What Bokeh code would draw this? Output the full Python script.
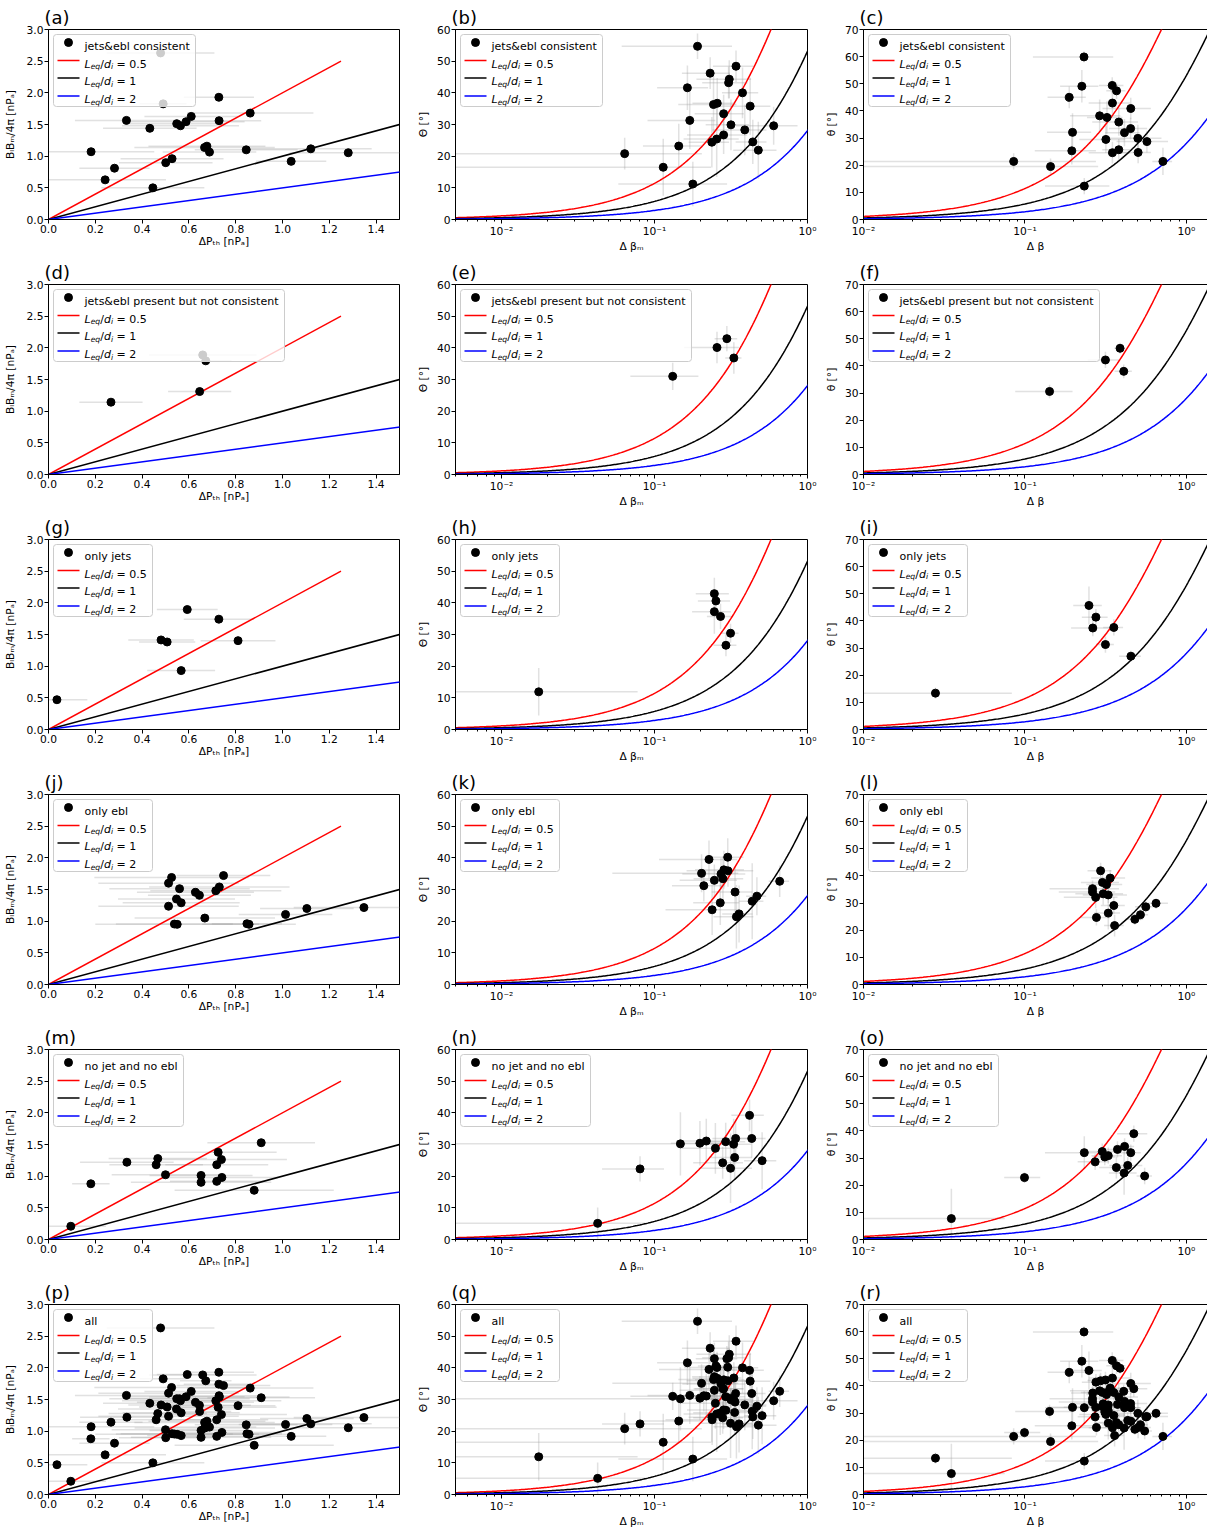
import numpy as np
from bokeh.plotting import figure
from bokeh.layouts import column, row
from bokeh.models import (Range1d, FixedTicker, PrintfTickFormatter, CustomJSTickFormatter,
                          Label, BoxAnnotation, Arrow)
from bokeh.embed import file_html
from bokeh.resources import INLINE

FONT = "DejaVu Sans"
FS = 10.7
LFS = 11.0

# ---------------- data ----------------
categories = ["jets&ebl consistent", "jets&ebl present but not consistent", "only jets",
              "only ebl", "no jet and no ebl", "all"]
panel_letters = list("abcdefghijklmnopqr")
L_ratios = [0.5, 1.0, 2.0]
L_texts = ["0.5", "1", "2"]
L_colors = ["#ff0000", "#000000", "#0000ff"]

# row 1 : jets&ebl consistent
a_x = [0.182, 0.242, 0.282, 0.333, 0.433, 0.446, 0.479, 0.490, 0.501, 0.528, 0.548, 0.564,
       0.588, 0.610, 0.667, 0.677, 0.688, 0.728, 0.729, 0.845, 0.862, 1.037, 1.121, 1.281]
a_y = [1.07, 0.626, 0.81, 1.565, 1.44, 0.50, 2.63, 1.826, 0.897, 0.96, 1.513, 1.48,
       1.544, 1.628, 1.137, 1.158, 1.064, 1.93, 1.56, 1.10, 1.68, 0.918, 1.116, 1.054]
a_xerr = [0.27, 0.26, 0.15, 0.22, 0.2, 0.22, 0.23, 0.1, 0.2, 0.22, 0.2, 0.25,
          0.25, 0.2, 0.3, 0.25, 0.2, 0.15, 0.18, 0.22, 0.27, 0.15, 0.26, 0.25]
b_x = [0.0638, 0.114, 0.144, 0.164, 0.170, 0.178, 0.191, 0.231, 0.237, 0.243, 0.255, 0.257,
       0.283, 0.283, 0.305, 0.308, 0.316, 0.341, 0.376, 0.389, 0.422, 0.439, 0.477, 0.601]
b_y = [20.8, 16.5, 23.2, 41.6, 31.3, 11.2, 54.7, 46.2, 24.4, 36.3, 25.4, 36.7,
       33.4, 26.7, 43.2, 44.3, 29.9, 48.4, 40.0, 28.3, 35.8, 24.5, 21.9, 29.6]
b_xerr = [0.14, 0.12, 0.06, 0.06, 0.08, 0.12, 0.13, 0.08, 0.07, 0.1, 0.1, 0.08,
          0.1, 0.12, 0.1, 0.12, 0.1, 0.1, 0.1, 0.15, 0.15, 0.1, 0.15, 0.26]
b_yerr = [5, 9, 7, 7, 9, 7, 4, 5, 8, 9, 12, 8, 6, 6, 5, 6, 8, 5, 8, 8, 9, 7, 9, 6]
c_x = [0.0851, 0.144, 0.188, 0.197, 0.195, 0.225, 0.232, 0.233, 0.290, 0.322, 0.317, 0.347,
       0.348, 0.348, 0.369, 0.381, 0.381, 0.413, 0.452, 0.451, 0.500, 0.502, 0.569, 0.715]
c_y = [21.4, 19.5, 45.0, 32.1, 25.3, 49.1, 59.9, 12.3, 38.2, 37.6, 29.5, 49.4,
       42.9, 24.6, 47.4, 35.9, 25.7, 32.0, 40.9, 33.5, 29.9, 24.7, 28.7, 21.4]
c_xerr = [0.19, 0.14, 0.05, 0.06, 0.08, 0.06, 0.12, 0.1, 0.1, 0.08, 0.1, 0.06,
          0.1, 0.1, 0.05, 0.12, 0.08, 0.1, 0.15, 0.12, 0.2, 0.1, 0.2, 0.1]
c_yerr = [3, 3, 4, 7, 5, 6, 2, 3, 6, 6, 5, 3, 5, 4, 3, 5, 4, 5, 4, 4, 5, 4, 4, 5]

# row 2 : jets&ebl present but not consistent
d_x = [0.267, 0.646, 0.659, 0.672]
d_y = [1.142, 1.31, 1.888, 1.795]
d_xerr = [0.135, 0.135, 0.23, 0.11]
e_x = [0.1315, 0.256, 0.297, 0.330]
e_y = [31.0, 40.1, 42.9, 36.8]
e_xerr = [0.062, 0.1, 0.05, 0.04]
e_yerr = [4.3, 5, 4, 5]
f_x = [0.142, 0.315, 0.388, 0.409]
f_y = [30.6, 42.2, 46.5, 38.0]
f_xerr = [0.055, 0.07, 0.03, 0.05]
f_yerr = [2.5, 3, 2, 2.5]

# row 3 : only jets
g_x = [0.036, 0.481, 0.507, 0.567, 0.593, 0.728, 0.81]
g_y = [0.47, 1.414, 1.382, 0.93, 1.894, 1.742, 1.403]
g_xerr = [0.13, 0.14, 0.12, 0.145, 0.13, 0.15, 0.16]
h_x = [0.0175, 0.246, 0.252, 0.246, 0.270, 0.314, 0.293]
h_y = [11.9, 42.9, 40.6, 37.2, 35.7, 30.4, 26.6]
h_xerr = [0.06, 0.06, 0.06, 0.07, 0.05, 0.04, 0.05]
h_yerr = [7.5, 5, 3, 7, 4, 3, 3.5]
i_x = [0.0279, 0.249, 0.275, 0.263, 0.315, 0.355, 0.453]
i_y = [13.4, 45.7, 41.4, 37.4, 31.3, 37.6, 27.0]
i_xerr = [0.055, 0.05, 0.05, 0.07, 0.04, 0.05, 0.07]
i_yerr = [2, 7, 3, 3, 3, 3, 2]

# row 4 : only ebl
j_x = [0.513, 0.513, 0.526, 0.538, 0.55, 0.547, 0.560, 0.567, 0.628, 0.645, 0.668, 0.715,
       0.73, 0.748, 0.848, 0.857, 1.013, 1.104, 1.348]
j_y = [1.60, 1.236, 1.69, 0.955, 0.95, 1.35, 1.513, 1.29, 1.455, 1.408, 1.049, 1.48,
       1.54, 1.72, 0.96, 0.95, 1.106, 1.20, 1.215]
j_xerr = [0.3, 0.3, 0.33, 0.25, 0.35, 0.25, 0.3, 0.25, 0.25, 0.22, 0.3, 0.28,
          0.3, 0.2, 0.15, 0.2, 0.2, 0.2, 0.3]
k_x = [0.203, 0.210, 0.227, 0.238, 0.246, 0.269, 0.272, 0.280, 0.284, 0.301, 0.302, 0.336,
       0.343, 0.357, 0.435, 0.467, 0.658]
k_y = [35.1, 31.2, 39.5, 23.6, 32.9, 25.8, 34.9, 33.4, 36.2, 40.2, 35.9, 29.2,
       21.4, 22.3, 26.3, 27.9, 32.6]
k_xerr = [0.15, 0.08, 0.12, 0.12, 0.1, 0.09, 0.12, 0.1, 0.1, 0.08, 0.14, 0.1,
          0.1, 0.08, 0.08, 0.07, 0.1]
k_yerr = [6, 5, 6, 8, 5, 7, 5, 7, 6, 6, 5, 8, 10, 9, 12, 6, 5]
l_x = [0.262, 0.262, 0.274, 0.277, 0.294, 0.302, 0.305, 0.320, 0.328, 0.328, 0.337, 0.355,
       0.359, 0.479, 0.519, 0.560, 0.648]
l_y = [35.3, 34.1, 32.1, 24.7, 41.9, 37.6, 33.4, 36.8, 33.0, 26.3, 39.2, 29.1,
       21.7, 24.0, 25.7, 28.6, 29.9]
l_xerr = [0.12, 0.1, 0.1, 0.06, 0.05, 0.08, 0.1, 0.08, 0.1, 0.06, 0.08, 0.06,
          0.05, 0.06, 0.06, 0.08, 0.12]
l_yerr = [3, 3, 4, 3, 3, 3, 4, 3, 3, 6, 3, 3, 4, 2, 2, 2, 2]

# row 5 : no jet and no ebl
m_x = [0.0954, 0.181, 0.335, 0.460, 0.467, 0.50, 0.652, 0.652, 0.719, 0.719, 0.725, 0.739,
       0.741, 0.879, 0.909]
m_y = [0.209, 0.88, 1.22, 1.18, 1.278, 1.022, 1.012, 0.902, 1.18, 0.918, 1.377, 1.262,
       0.98, 0.777, 1.528]
m_xerr = [0.15, 0.08, 0.2, 0.2, 0.21, 0.23, 0.22, 0.3, 0.22, 0.2, 0.25, 0.28, 0.24, 0.34, 0.23]
n_x = [0.0425, 0.0804, 0.1476, 0.198, 0.218, 0.250, 0.279, 0.292, 0.314, 0.329, 0.334, 0.339,
       0.418, 0.432, 0.505]
n_y = [5.1, 22.3, 30.2, 30.4, 31.1, 28.8, 24.2, 30.9, 22.5, 30.1, 25.9, 31.9, 39.2, 31.9, 24.9]
n_xerr = [0.045, 0.035, 0.15, 0.07, 0.08, 0.1, 0.1, 0.1, 0.12, 0.1, 0.1, 0.1, 0.1, 0.1, 0.12]
n_yerr = [5, 4, 10, 7, 7, 8, 5, 6, 11, 8, 7, 6, 5, 6, 9]
o_x = [0.035, 0.0993, 0.233, 0.272, 0.301, 0.312, 0.328, 0.368, 0.374, 0.411, 0.414, 0.433,
       0.452, 0.472, 0.551]
o_y = [7.7, 22.8, 32.0, 28.6, 32.4, 30.4, 30.9, 26.5, 33.2, 24.5, 34.3, 27.3, 32.0, 39.0, 23.4]
o_xerr = [0.04, 0.025, 0.1, 0.06, 0.08, 0.05, 0.07, 0.08, 0.08, 0.08, 0.06, 0.1, 0.07, 0.1, 0.06]
o_yerr = [11, 2, 6, 3, 3, 3, 3, 4, 3, 8, 3, 3, 3, 3, 3]

rows_data = [
    [(a_x, a_y, a_xerr, None), (b_x, b_y, b_xerr, b_yerr), (c_x, c_y, c_xerr, c_yerr)],
    [(d_x, d_y, d_xerr, None), (e_x, e_y, e_xerr, e_yerr), (f_x, f_y, f_xerr, f_yerr)],
    [(g_x, g_y, g_xerr, None), (h_x, h_y, h_xerr, h_yerr), (i_x, i_y, i_xerr, i_yerr)],
    [(j_x, j_y, j_xerr, None), (k_x, k_y, k_xerr, k_yerr), (l_x, l_y, l_xerr, l_yerr)],
    [(m_x, m_y, m_xerr, None), (n_x, n_y, n_xerr, n_yerr), (o_x, o_y, o_xerr, o_yerr)],
]
# "all" = union of the five categories
all_row = []
for ci in range(3):
    xs = sum((list(r[ci][0]) for r in rows_data), [])
    ys = sum((list(r[ci][1]) for r in rows_data), [])
    xe = sum((list(r[ci][2]) for r in rows_data), [])
    ye = None if ci == 0 else sum((list(r[ci][3]) for r in rows_data), [])
    all_row.append((xs, ys, xe, ye))
rows_data.append(all_row)

# axis labels
x_labels = ["ΔPₜₕ [nPₐ]", "Δ βₘ", "Δ β"]
y_labels = ["BₗBₘ/4π [nPₐ]", "Θ [°]", "θ [°]"]

# ---------------- text helpers ----------------
CW = {' ': .318, '&': .779, '(': .390, ')': .390, '.': .318, '/': .337, '=': .838, '[': .390,
      ']': .390, 'B': .686, 'L': .557, 'M': .863, 'P': .603, 'a': .613, 'b': .635, 'c': .550,
      'd': .635, 'e': .615, 'g': .635, 'h': .634, 'i': .278, 'j': .278, 'l': .278, 'n': .634,
      'o': .612, 'p': .635, 'q': .635, 'r': .411, 's': .521, 't': .392, 'u': .634, 'y': .592,
      'k': .579, 'm': .974, 'v': .592, 'w': .818, 'x': .592, 'f': .352}
for dch in "0123456789":
    CW[dch] = .636


def tw(s, size):
    return sum(CW.get(ch, 0.6) for ch in s) * size


SUB = 0.7


def rich(p, pieces, x, y, size=FS):
    cum = 0.0
    for t, it, s in pieces:
        fsz = size * SUB if s else size
        drop = size * 0.24 if s else 0.0
        lead = tw(t[:len(t) - len(t.lstrip(' '))], fsz)
        p.add_layout(Label(x=x, y=y, x_units="screen", y_units="screen", x_offset=cum + lead,
                           y_offset=-drop, text=t.strip(' '), text_font=FONT,
                           text_font_size=f"{fsz:.2f}px",
                           text_font_style="italic" if it else "normal", text_color="black",
                           text_align="left", text_baseline="alphabetic"))
        cum += tw(t, fsz)
    return cum


def leq_pieces(val):
    return [("L", True, False), ("eq", True, True), ("/", False, False), ("d", True, False),
            ("i", True, True), (" = " + val, False, False)]


def add_legend(p, label, FH):
    wl = tw(label, LFS)
    wm = sum(tw(t, LFS * (SUB if s else 1.0)) for t, it, s in leq_pieces("0.5"))
    width = int(round(31 + max(wl, wm) + 6))
    p.add_layout(BoxAnnotation(left=5, right=5 + width, top=FH - 5, bottom=FH - 77,
                               left_units="screen", right_units="screen", top_units="screen",
                               bottom_units="screen", fill_color="white", fill_alpha=0.8,
                               line_color="#cccccc", line_alpha=1.0, line_width=1, border_radius=3))
    ym = FH - 13
    p.add_layout(BoxAnnotation(left=16, right=24, top=ym + 4, bottom=ym - 4,
                               left_units="screen", right_units="screen", top_units="screen",
                               bottom_units="screen", fill_color="black", fill_alpha=1.0,
                               line_color="black", line_alpha=1.0, border_radius=4))
    rich(p, [(label, False, False)], 36, ym - 3.5, size=LFS)
    for k, (val, col) in enumerate(zip(L_texts, L_colors)):
        yy = FH - [31, 48.5, 66.5][k]
        p.add_layout(Arrow(end=None, x_start=9, y_start=yy, x_end=31, y_end=yy,
                           start_units="screen", end_units="screen", line_color=col, line_width=1.5))
        rich(p, leq_pieces(val), 36, yy - 3.5, size=LFS)


def style_axis(ax, minor, label, standoff):
    ax.axis_line_color = "black"
    ax.axis_line_width = 1
    ax.major_tick_line_color = "black"
    ax.major_tick_in = 0
    ax.major_tick_out = 4
    ax.minor_tick_in = 0
    ax.minor_tick_out = 2
    ax.minor_tick_line_color = "black" if minor else None
    ax.major_label_text_font = FONT
    ax.major_label_text_font_size = f"{FS}px"
    ax.major_label_text_color = "black"
    ax.major_label_text_line_height = 1.0
    ax.major_label_standoff = 1
    ax.axis_label = label
    ax.axis_label_text_font = FONT
    ax.axis_label_text_font_size = f"{FS}px"
    ax.axis_label_text_font_style = "normal"
    ax.axis_label_text_color = "black"
    ax.axis_label_text_line_height = 1.0
    ax.axis_label_standoff = standoff


def log_formatter():
    return CustomJSTickFormatter(code="""
const e = Math.round(Math.log10(tick));
const m = {"-": "\\u207b", "0": "\\u2070", "1": "\\u00b9", "2": "\\u00b2", "3": "\\u00b3"};
return "10" + String(e).split("").map(c => m[c]).join("");
""")


# ---------------- layout ----------------
FH = 190
TOP = 29
BOT = 36
FW = [351, 352, 344]
BL = [47, 46, 46]
BR = [10, 10, 1]
XLIM = [(0.0, 1.5), (0.005, 1.0), (0.01, 1.35)]
YLIM = [(0.0, 3.0), (0, 60), (0, 70)]
Y_STANDOFF = [7, 4, 4]

curve_x = np.logspace(-3, 0.5, 400)
line_y = np.array([0.0, 2.5])

ERR_COLOR = "#9a9a9a"
ERR_ALPHA = 0.3

grid_rows = []
for ri in range(6):
    figs = []
    for ci in range(3):
        kw = dict(frame_width=FW[ci], frame_height=FH, min_border_left=BL[ci],
                  min_border_right=BR[ci], min_border_top=TOP, min_border_bottom=BOT,
                  x_range=Range1d(*XLIM[ci]), y_range=Range1d(*YLIM[ci]),
                  output_backend="svg", toolbar_location=None,
                  background_fill_color="white", border_fill_color="white",
                  outline_line_color="black", outline_line_width=1, outline_line_alpha=1.0)
        if ci > 0:
            kw["x_axis_type"] = "log"
        p = figure(**kw)
        p.grid.visible = False
        style_axis(p.xaxis[0], ci > 0, x_labels[ci], -1)
        style_axis(p.yaxis[0], False, y_labels[ci], Y_STANDOFF[ci])
        if ci == 0:
            p.xaxis.ticker = FixedTicker(ticks=[0.0, 0.2, 0.4, 0.6, 0.8, 1.0, 1.2, 1.4])
            p.xaxis.formatter = PrintfTickFormatter(format="%.1f")
            p.yaxis.ticker = FixedTicker(ticks=[0.0, 0.5, 1.0, 1.5, 2.0, 2.5, 3.0])
            p.yaxis.formatter = PrintfTickFormatter(format="%.1f")
        else:
            minors = [m * 10.0 ** e for e in (-3, -2, -1, 0) for m in range(2, 10)]
            p.xaxis.ticker = FixedTicker(ticks=[0.01, 0.1, 1.0], minor_ticks=minors)
            p.xaxis.formatter = log_formatter()
            top = 60 if ci == 1 else 70
            p.yaxis.ticker = FixedTicker(ticks=list(range(0, top + 1, 10)))
            p.yaxis.formatter = PrintfTickFormatter(format="%d")

        # panel label
        p.title.text = "(" + panel_letters[ri * 3 + ci] + ")"
        p.title.align = "left"
        p.title.offset = -4
        p.title.text_font = FONT
        p.title.text_font_size = "18px"
        p.title.text_font_style = "normal"
        p.title.text_color = "black"
        p.title.text_line_height = 1.0
        p.title.standoff = 3

        x, y, xe, ye = rows_data[ri][ci]
        x = np.asarray(x, float); y = np.asarray(y, float); xe = np.asarray(xe, float)
        x0 = x - xe
        if ci > 0:
            x0 = np.maximum(x0, 1e-4)
        p.segment(x0, y, x + xe, y, line_color=ERR_COLOR, line_alpha=ERR_ALPHA, line_width=1.5)
        if ye is not None:
            ye = np.asarray(ye, float)
            p.segment(x, y - ye, x, y + ye, line_color=ERR_COLOR, line_alpha=ERR_ALPHA, line_width=1.5)

        for L, col in zip(L_ratios, L_colors):
            if ci == 0:
                p.line(L * line_y, line_y, line_color=col, line_width=1.5)
            else:
                p.line(curve_x, np.degrees(2 * np.arctan(curve_x / (2 * L))), line_color=col, line_width=1.5)

        p.scatter(x, y, size=8, color="black")

        add_legend(p, categories[ri], FH)
        figs.append(p)
    grid_rows.append(row(*figs))

layout = column(*grid_rows)
open("out.html", "w").write(file_html(layout, INLINE))
